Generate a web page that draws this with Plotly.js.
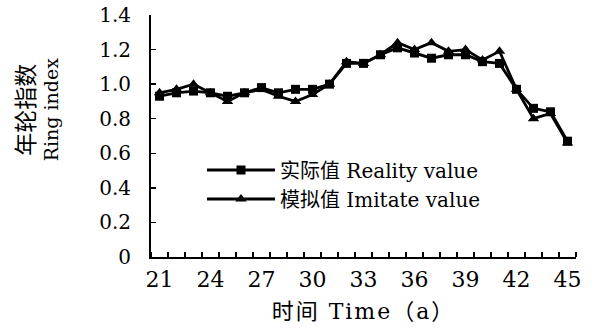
<!DOCTYPE html>
<html>
<head>
<meta charset="utf-8">
<script src="https://cdn.plot.ly/plotly-3.0.1.min.js"></script>
<style>
  html, body { margin: 0; padding: 0; background: #fff; }
  #chart { width: 603px; height: 330px; }
  /* wider set for the x-axis title */
  #chart .xtitle { letter-spacing: 2px; }
</style>
</head>
<body>
<div id="chart"></div>
<script>
// Tree age (years)
const years = [21, 22, 23, 24, 25, 26, 27, 28, 29, 30, 31, 32, 33,
               34, 35, 36, 37, 38, 39, 40, 41, 42, 43, 44, 45];

// Measured ring index
const realityValues = [0.93, 0.95, 0.96, 0.95, 0.93, 0.95, 0.98, 0.95, 0.97, 0.97, 1.00, 1.12, 1.12,
                       1.17, 1.21, 1.18, 1.15, 1.17, 1.17, 1.13, 1.12, 0.97, 0.86, 0.84, 0.67];

// Simulated ring index
const imitateValues = [0.95, 0.97, 1.00, 0.95, 0.90, 0.95, 0.97, 0.93, 0.90, 0.94, 1.00, 1.13, 1.12,
                       1.17, 1.24, 1.20, 1.24, 1.19, 1.20, 1.14, 1.19, 0.97, 0.80, 0.83, 0.66];

// Axis labels
const xTickYears = [21, 24, 27, 30, 33, 36, 39, 42, 45];
const xTickText = ['21', '24', '27', '30', '33', '36', '39', '42', '45'];
const yTickVals = [0, 0.2, 0.4, 0.6, 0.8, 1.0, 1.2, 1.4];
const yTickText = ['0', '0.2', '0.4', '0.6', '0.8', '1.0', '1.2', '1.4'];

const seriesNames = ['实际值 Reality value', '模拟值 Imitate value'];
const yTitleCn = '年轮指数';
const yTitleEn = 'Ring index';
const xTitle = '时间 Time（a）';

const serif = 'DejaVu Serif, "Noto Sans CJK SC", serif';

const traces = [
  {
    x: years, y: realityValues, name: seriesNames[0],
    type: 'scatter', mode: 'lines+markers',
    line: { color: '#000', width: 2.8 },
    marker: { symbol: 'square', size: 9, color: '#000' }
  },
  {
    x: years, y: imitateValues, name: seriesNames[1],
    type: 'scatter', mode: 'lines+markers',
    line: { color: '#000', width: 2.8 },
    marker: { symbol: 'triangle-up', size: 10, color: '#000' }
  }
];

const layout = {
  width: 603, height: 330,
  margin: { l: 151, r: 27, t: 15, b: 73 },
  paper_bgcolor: '#fff', plot_bgcolor: '#fff',
  showlegend: true,
  legend: {
    x: 0.12, y: 0.44, xanchor: 'left', yanchor: 'top',
    bgcolor: 'rgba(0,0,0,0)',
    font: { family: serif, size: 20, color: '#000' },
    itemwidth: 68,
    tracegroupgap: 0
  },
  xaxis: {
    range: [20.5, 45.5],
    tickmode: 'array', tickvals: xTickYears, ticktext: xTickText,
    ticks: '',
    minor: { tick0: 20.5, dtick: 1, ticks: 'inside', ticklen: 5, tickwidth: 1.5, tickcolor: '#000' },
    showline: true, linecolor: '#000', linewidth: 2,
    showgrid: false, zeroline: false,
    tickfont: { family: serif, size: 22, color: '#000' },
    ticklabelstandoff: 2,
    title: { text: xTitle, font: { family: serif, size: 22, color: '#000' }, standoff: 12 }
  },
  yaxis: {
    range: [0, 1.4],
    tickmode: 'array', tickvals: yTickVals, ticktext: yTickText,
    ticks: 'inside', ticklen: 5, tickwidth: 1.5, tickcolor: '#000',
    showline: true, linecolor: '#000', linewidth: 2,
    showgrid: false, zeroline: false,
    tickfont: { family: serif, size: 20, color: '#000' },
    ticklabelstandoff: 14
  },
  annotations: [
    {
      // rotated two-line y-axis title
      xref: 'paper', yref: 'paper', x: -0.266, y: 0.61,
      xanchor: 'center', yanchor: 'middle', textangle: -90, showarrow: false,
      text: '<span style="font-size:23px">' + yTitleCn + '</span><br>' + yTitleEn,
      font: { family: serif, size: 19, color: '#000' }
    }
  ]
};

Plotly.newPlot('chart', traces, layout, { displayModeBar: false, staticPlot: true });
</script>
</body>
</html>
